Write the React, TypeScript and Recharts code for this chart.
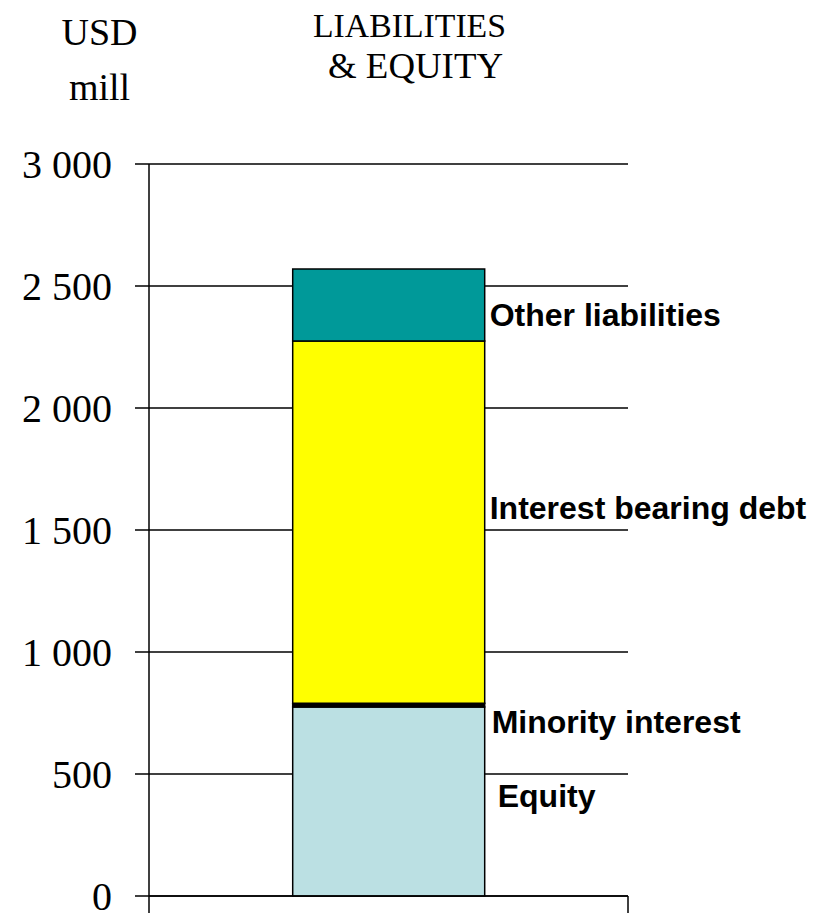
import React from "react";
import { BarChart, Bar, XAxis, YAxis, CartesianGrid, LabelList } from "recharts";

const categories = ["LIABILITIES & EQUITY"];
const equity = [775];
const minority = [15];
const debt = [1485];
const other = [295];
const yTicks = [0, 500, 1000, 1500, 2000, 2500, 3000];
const edgeTicks = [0, 1];
const seriesNames = ["Equity", "Minority interest", "Interest bearing debt", "Other liabilities"];

const data = categories.map((name, i) => ({
  name,
  edge: 0.5,
  equity: equity[i],
  minority: minority[i],
  debt: debt[i],
  other: other[i],
}));

const series = [
  { key: "equity", label: seriesNames[0], fill: "#BBE0E3", dx: 13, dy: 5.5 },
  { key: "minority", label: seriesNames[1], fill: "#000000", dx: 7, dy: 28 },
  { key: "debt", label: seriesNames[2], fill: "#FFFF00", dx: 5, dy: -3 },
  { key: "other", label: seriesNames[3], fill: "#009999", dx: 5, dy: 21 },
];

const fmt = (v: number) => {
  const s = String(v);
  return s.length > 3 ? s.slice(0, s.length - 3) + " " + s.slice(-3) : s;
};

const makeLabel = (text: string, dx: number, dy: number) => (props: any) => {
  const vb = props.viewBox || {};
  const x = Number(props.x ?? vb.x);
  const y = Number(props.y ?? vb.y);
  const w = Number(props.width ?? vb.width);
  const h = Number(props.height ?? vb.height);
  return (
    <text
      x={x + w + dx}
      y={y + h / 2 + dy}
      fill="#000"
      fontFamily="'Liberation Sans', Arial, sans-serif"
      fontWeight="bold"
      fontSize={32}
    >
      {text}
    </text>
  );
};

const NoTick = () => <g />;

export default function App() {
  return (
    <div style={{ position: "relative", width: 817, height: 905 }}>
      <BarChart
        width={817}
        height={905}
        data={data}
        margin={{ top: 156, right: 197, bottom: 0, left: 0 }}
        barCategoryGap="30%"
      >
        <CartesianGrid
          xAxisId="edge"
          horizontal={true}
          vertical={false}
          stroke="#000"
          strokeWidth={1.3}
        />
        <XAxis
          xAxisId="edge"
          dataKey="edge"
          type="number"
          domain={[0, 1]}
          allowDataOverflow
          ticks={edgeTicks}
          interval={0}
          tick={<NoTick />}
          tickSize={17}
          tickMargin={0}
          height={17}
          axisLine={{ stroke: "#000", strokeWidth: 1.5 }}
          tickLine={{ stroke: "#000", strokeWidth: 1.5 }}
        />
        <XAxis xAxisId="cat" dataKey="name" hide height={0} />
        <YAxis
          domain={[0, 3000]}
          ticks={yTicks}
          tickFormatter={fmt}
          width={141}
          tickSize={14}
          tickMargin={23}
          axisLine={{ stroke: "#000", strokeWidth: 1.5 }}
          tickLine={{ stroke: "#000", strokeWidth: 1.5 }}
          tick={{ fill: "#000", fontSize: 40, fontFamily: "'Liberation Serif', 'Times New Roman', serif" }}
          interval={0}
        />
        {series.map((s) => (
          <Bar
            key={s.key}
            xAxisId="cat"
            dataKey={s.key}
            stackId="a"
            fill={s.fill}
            stroke="#000"
            strokeWidth={1.5}
            isAnimationActive={false}
          >
            <LabelList dataKey={s.key} content={makeLabel(s.label, s.dx, s.dy)} />
          </Bar>
        ))}
      </BarChart>
      <svg
        width={817}
        height={160}
        style={{ position: "absolute", left: 0, top: 0, pointerEvents: "none" }}
      >
        <g fontFamily="'Liberation Serif', 'Times New Roman', serif" fill="#000">
          <text x={91.5} y={37} fontSize={38} textAnchor="middle">USD</text>
          <text x={91.5} y={92} fontSize={38} textAnchor="middle">mill</text>
          <text x={401.5} y={29} fontSize={34} textAnchor="middle" textLength={193} lengthAdjust="spacingAndGlyphs">LIABILITIES</text>
          <text x={407.5} y={70} fontSize={35} textAnchor="middle" textLength={175} lengthAdjust="spacingAndGlyphs">&amp; EQUITY</text>
        </g>
      </svg>
    </div>
  );
}
